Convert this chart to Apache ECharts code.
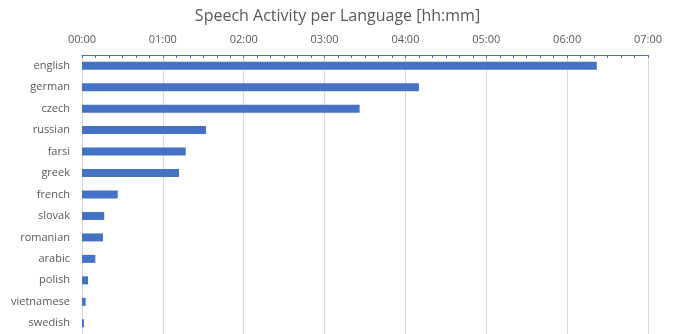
<!DOCTYPE html>
<html><head><meta charset="utf-8">
<script src="https://cdn.jsdelivr.net/npm/echarts@6/dist/echarts.min.js"></script>
<style>html,body{margin:0;padding:0;background:#fff}#c{width:675px;height:334px}</style>
</head><body><div id="c"></div>
<script>
var categories = ["english","german","czech","russian","farsi","greek","french","slovak","romanian","arabic","polish","vietnamese","swedish"];
var minutes = [382, 250, 206, 92, 77, 72, 26.5, 16.5, 15.6, 9.9, 4.5, 2.7, 1.5];
var tickLabels = ["00:00","01:00","02:00","03:00","04:00","05:00","06:00","07:00"];

var chart = echarts.init(document.getElementById('c'), null, {renderer:'canvas'});
var font = '"Open Sans", "Liberation Sans", sans-serif';
chart.setOption({
  animation:false,
  title:{text:'Speech Activity per Language [hh:mm]', left:'center', top:3,
    textStyle:{fontFamily:font, fontSize:16, fontWeight:'normal', color:'#595959'}},
  grid:{left:82, right:27, top:55, height:279.5, containLabel:false},
  xAxis:{type:'value', position:'top', min:0, max:420, interval:60,
    axisLine:{show:true, lineStyle:{color:'#4472C4', width:1}},
    axisTick:{show:true, inside:true, length:3, lineStyle:{color:'#4472C4'}},
    minorTick:{show:true, splitNumber:6, length:3, lineStyle:{color:'#4472C4'}},
    splitLine:{show:true, lineStyle:{color:'#D9D9D9', width:1}},
    axisLabel:{margin:10, color:'#595959', fontFamily:font, fontSize:11,
      formatter:function(v){return tickLabels[Math.round(v/60)];}}
  },
  yAxis:{type:'category', inverse:true, data:categories,
    axisLine:{show:false}, axisTick:{show:false},
    axisLabel:{margin:12, color:'#595959', fontFamily:font, fontSize:11}},
  series:[{type:'bar', data:minutes, barWidth:8,
    itemStyle:{color:'#4472C4'}}]
});
</script></body></html>
